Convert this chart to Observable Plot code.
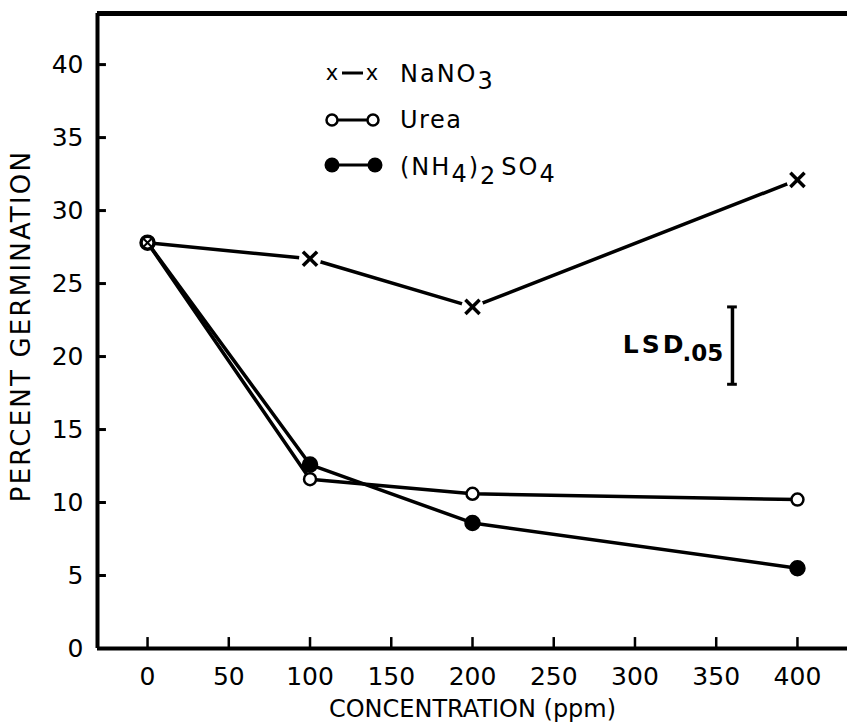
<!DOCTYPE html>
<html><head><meta charset="utf-8">
<script src="https://cdn.jsdelivr.net/npm/d3@7"></script>
<script src="https://cdn.jsdelivr.net/npm/@observablehq/plot@0.6"></script>
<style>
body{margin:0;background:#fff;}
#chart svg{display:block;}
</style>
</head><body><div id="chart"></div>
<script>
// ---- data ----
const concentrations = [0, 100, 200, 400];
const nano3 = [27.8, 26.7, 23.4, 32.1];
const urea = [27.8, 11.6, 10.6, 10.2];
const ammonium = [27.8, 12.6, 8.6, 5.5];
const seriesNames = ["NaNO3", "Urea", "(NH4)2SO4"];
const xTicks = [0, 50, 100, 150, 200, 250, 300, 350, 400];
const yTicks = [0, 5, 10, 15, 20, 25, 30, 35, 40];
const lsdX = [360];
const lsdLow = [18.1];
const lsdHigh = [23.4];

const xDomain = [-30.8, 430.8];
const yDomain = [0, 43.5];

const rows = [];
[nano3, urea, ammonium].forEach((vals, i) =>
  vals.forEach((v, j) => rows.push({series: seriesNames[i], x: concentrations[j], y: v})));
const nRows = rows.filter(d => d.series === "NaNO3");
const uRows = rows.filter(d => d.series === "Urea");
const aRows = rows.filter(d => d.series === "(NH4)2SO4");
const lsd = lsdX.map((x, i) => ({x, lo: lsdLow[i], hi: lsdHigh[i]}));

const font = "DejaVu Sans, Verdana, sans-serif";

const chart = Plot.plot({
  width: 847,
  height: 728,
  marginLeft: 97,
  marginRight: 0,
  marginTop: 13,
  marginBottom: 80,
  style: {fontFamily: font, color: "#000", background: "#fff"},
  x: {domain: xDomain, axis: null},
  y: {domain: yDomain, axis: null},
  marks: [
    // frame lines
    Plot.ruleY([yDomain[1]], {stroke: "#000", strokeWidth: 5}),
    Plot.ruleX([xDomain[0]], {stroke: "#000", strokeWidth: 4}),
    Plot.ruleY([0], {stroke: "#000", strokeWidth: 4}),
    // inward ticks
    Plot.ruleY(yTicks.filter(d => d > 0), {x1: xDomain[0], x2: xDomain[0] + 5.5, stroke: "#000", strokeWidth: 3}),
    Plot.ruleX(xTicks, {y1: 0, y2: 0.75, stroke: "#000", strokeWidth: 2.5}),
    // tick labels
    Plot.text(yTicks, {x: xDomain[0], y: d => d, text: d => String(d), textAnchor: "end", dx: -14, fontSize: 25}),
    Plot.text(xTicks, {x: d => d, y: 0, text: d => String(d), dy: 28, fontSize: 25}),
    // axis titles
    Plot.text(["CONCENTRATION (ppm)"], {frameAnchor: "bottom", textAnchor: "middle", dy: 68, dx: 0, fontSize: 24, text: d => d}),
    Plot.text(["PERCENT GERMINATION"], {frameAnchor: "left", textAnchor: "middle", dx: -76, dy: -5, rotate: -90, fontSize: 26, text: d => d}),
    // lines
    Plot.line(rows, {x: "x", y: "y", z: "series", stroke: "#000", strokeWidth: 3.5}),
    // gaps around NaNO3 crosses
    Plot.dot(nRows.filter(d => d.x > 0), {x: "x", y: "y", r: 11, fill: "#fff", stroke: null}),
    Plot.dot(nRows.filter(d => d.x > 0), {x: "x", y: "y", symbol: "times", r: 6.5, stroke: "#000", strokeWidth: 3.5}),
    Plot.dot(aRows, {x: "x", y: "y", r: 7.5, fill: "#000", stroke: "#000"}),
    Plot.dot(uRows, {x: "x", y: "y", r: 6, fill: "#fff", stroke: "#000", strokeWidth: 2.5}),
    Plot.dot(nRows.filter(d => d.x === 0), {x: "x", y: "y", symbol: "times", r: 3.5, stroke: "#000", strokeWidth: 2}),
    // LSD bar
    Plot.ruleX(lsd, {x: "x", y1: "lo", y2: "hi", stroke: "#000", strokeWidth: 3.5}),
    Plot.ruleY(lsd, {y: "lo", x1: d => d.x - 3, x2: d => d.x + 3, stroke: "#000", strokeWidth: 3}),
    Plot.ruleY(lsd, {y: "hi", x1: d => d.x - 3, x2: d => d.x + 3, stroke: "#000", strokeWidth: 3}),
    Plot.text(lsd, {x: "x", y: d => (d.lo + d.hi) / 2, text: () => "LSD", textAnchor: "end", dx: -46, dy: -1, fontSize: 25, fontWeight: "bold"}),
    Plot.text(lsd, {x: "x", y: d => (d.lo + d.hi) / 2, text: () => ".05", textAnchor: "start", dx: -50, dy: 8, fontSize: 23, fontWeight: "bold"})
  ]
});

const svg = d3.select(chart);
// letter spacing for a few texts (Plot's text mark has no such option)
svg.selectAll("text").each(function() {
  const t = this.textContent;
  if (t === "PERCENT GERMINATION") this.setAttribute("letter-spacing", "2.2px");
  if (t === "LSD") this.setAttribute("letter-spacing", "3px");
});

// legend inside the plot (positions in px)
const lg = svg.append("g").attr("font-family", font).attr("fill", "#000").attr("text-anchor", "start");
// row 1: x—x NaNO3
[332, 372].forEach(cx => lg.append("text").attr("x", cx).attr("y", 80).attr("text-anchor", "middle").attr("font-size", 21).text("x"));
lg.append("line").attr("x1", 342).attr("x2", 363).attr("y1", 73).attr("y2", 73).attr("stroke", "#000").attr("stroke-width", 3);
const t1 = lg.append("text").attr("x", 400).attr("y", 82).attr("font-size", 24).attr("letter-spacing", "2px");
t1.append("tspan").text("NaNO");
t1.append("tspan").attr("dy", 7).text("3");
// row 2: o—o Urea
lg.append("line").attr("x1", 332).attr("x2", 373).attr("y1", 120).attr("y2", 120).attr("stroke", "#000").attr("stroke-width", 3);
[332, 373].forEach(cx => lg.append("circle").attr("cx", cx).attr("cy", 120).attr("r", 5.5).attr("fill", "#fff").attr("stroke", "#000").attr("stroke-width", 2.5));
lg.append("text").attr("x", 400).attr("y", 128).attr("font-size", 24).attr("letter-spacing", "1.5px").text("Urea");
// row 3: ●—● (NH4)2SO4
lg.append("line").attr("x1", 332).attr("x2", 375).attr("y1", 165).attr("y2", 165).attr("stroke", "#000").attr("stroke-width", 3);
[332, 375].forEach(cx => lg.append("circle").attr("cx", cx).attr("cy", 165).attr("r", 7.5).attr("fill", "#000"));
const t3 = lg.append("text").attr("x", 400).attr("y", 175).attr("font-size", 24).attr("letter-spacing", "2px");
t3.append("tspan").text("(NH");
t3.append("tspan").attr("dy", 7).text("4");
t3.append("tspan").attr("dy", -7).text(")");
t3.append("tspan").attr("dy", 9).text("2");
t3.append("tspan").attr("dy", -9).attr("dx", 4).text("SO");
t3.append("tspan").attr("dy", 7).text("4");

document.getElementById("chart").appendChild(chart);
</script>
</body></html>
